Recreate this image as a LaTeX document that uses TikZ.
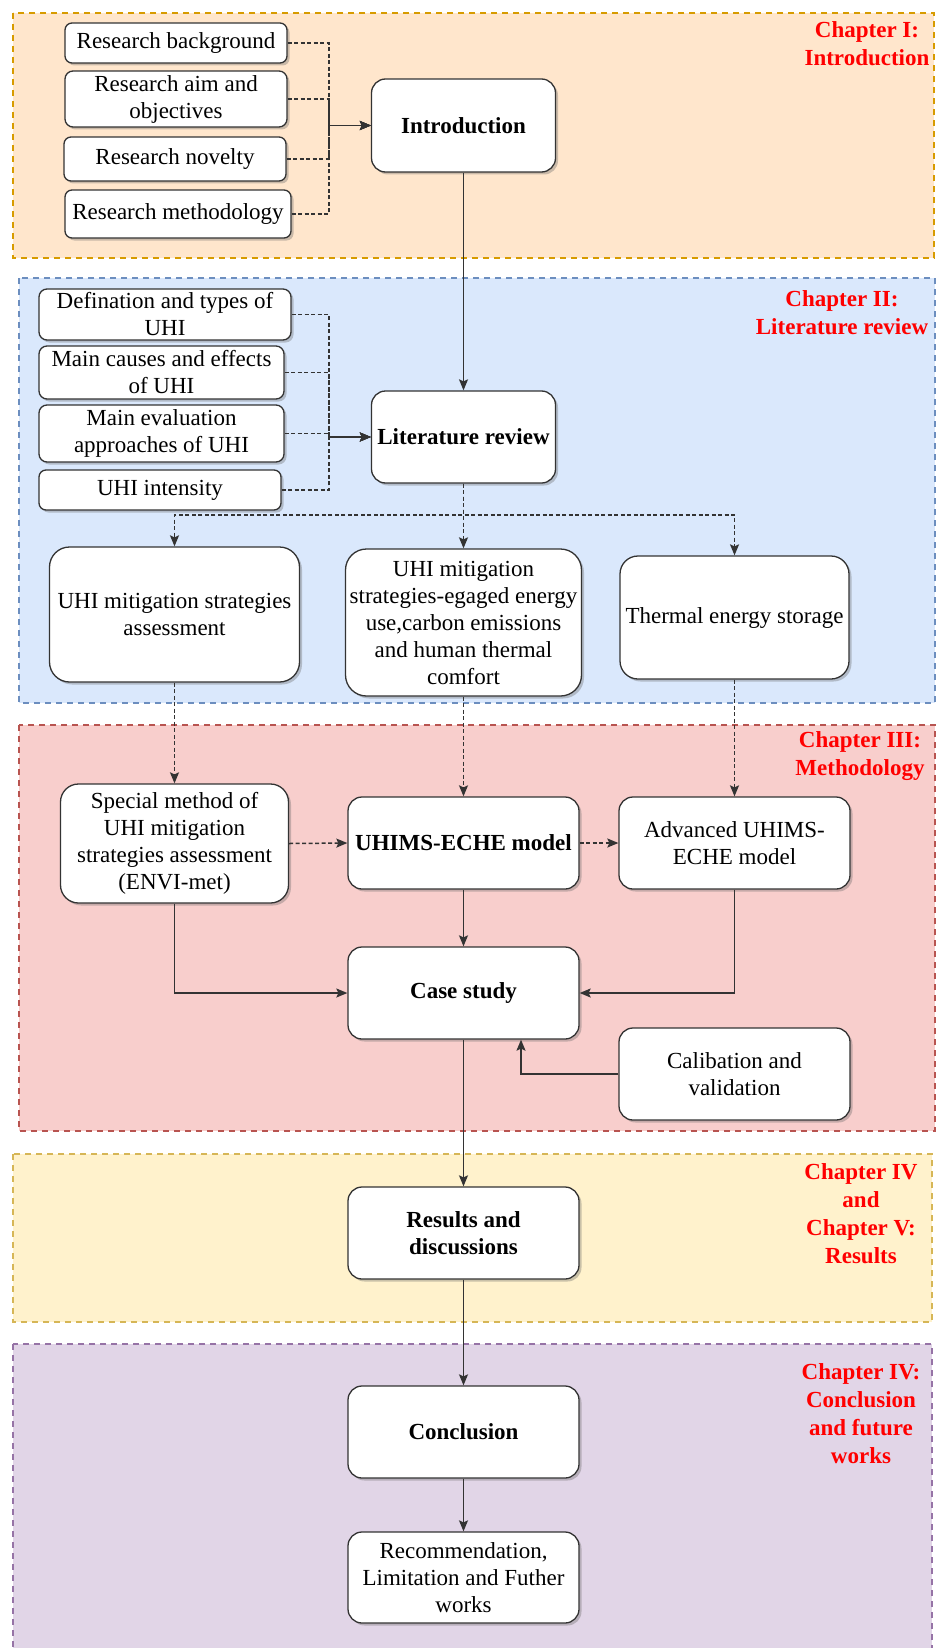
\documentclass[tikz,border=0pt]{standalone}
\usepackage{fontspec}
\setmainfont{Liberation Serif}
\usetikzlibrary{arrows.meta,shadows}

\definecolor{edgegray}{HTML}{333333}
\definecolor{orangefill}{HTML}{FFE6CC}\definecolor{orangeline}{HTML}{D79B00}
\definecolor{bluefill}{HTML}{DAE8FC}\definecolor{blueline}{HTML}{6C8EBF}
\definecolor{redfill}{HTML}{F8CECC}\definecolor{redline}{HTML}{B85450}
\definecolor{yellowfill}{HTML}{FFF2CC}\definecolor{yellowline}{HTML}{D6B656}
\definecolor{purplefill}{HTML}{E1D5E7}\definecolor{purpleline}{HTML}{9673A6}

\begin{document}
\begin{tikzpicture}[x=1pt,y=-1pt,
  chapter/.style={line width=2pt, dash pattern=on 6pt off 5pt},
  chlabel/.style={text=red, font=\bfseries\fontsize{23}{28}\selectfont, align=center, inner sep=0pt},
  box/.style={draw=edgegray, fill=white, line width=1.3pt, align=center, inner sep=0pt,
    font=\fontsize{23}{27}\selectfont,
    drop shadow={shadow xshift=2.5pt, shadow yshift=-2.5pt, opacity=0.35, fill=black!60}},
  wh/.style n args={3}{minimum width=#1pt, minimum height=#2pt, rounded corners=#3pt},
  bold/.style={font=\bfseries\fontsize{23}{27}\selectfont},
  >={Stealth[length=11pt,width=9pt,inset=2pt]},
  link/.style={draw=edgegray, line width=1.4pt, ->},
  dlink/.style={link, line width=1.5pt, dash pattern=on 4pt off 2.5pt}
]
\useasboundingbox (0,0) rectangle (937,1648);

% chapter bands
\path[chapter, fill=orangefill, draw=orangeline] (13,13) rectangle (934,258);
\path[chapter, fill=bluefill, draw=blueline] (19,278) rectangle (935,703);
\path[chapter, fill=redfill, draw=redline] (19,725) rectangle (935,1131);
\path[chapter, fill=yellowfill, draw=yellowline] (13,1154) rectangle (932,1322);
\path[chapter, fill=purplefill, draw=purpleline] (13,1344) rectangle (932,1665);

% chapter labels
\node[chlabel] (l1) at (867,44) {Chapter I:\\Introduction};
\node[chlabel] (l2) at (842,313) {Chapter II:\\Literature review};
\node[chlabel] (l3) at (860,756) {Chapter III:\\Methodology};
\node[chlabel] (l4) at (861,1214) {Chapter IV\\and\\Chapter V:\\Results};
\node[chlabel] (l5) at (861,1414) {Chapter IV:\\Conclusion\\and future\\works};

% chapter I
\node[box, wh={222}{40}{7}] (rb) at (176,43) {Research background};
\node[box, wh={222}{56}{8}] (ra) at (176,99) {Research aim and\\objectives};
\node[box, wh={222}{44}{7}] (rn) at (175,159) {Research novelty};
\node[box, wh={226}{48}{7}] (rm) at (178,214) {Research methodology};
\node[box, bold, wh={184}{93}{14}] (intro) at (463.5,125.5) {Introduction};

% chapter II
\node[box, wh={252}{51}{8}] (def) at (165,314.5) {Defination and types of\\UHI};
\node[box, wh={245}{53}{8}] (cause) at (161.5,372.5) {Main causes and effects\\of UHI};
\node[box, wh={245}{57}{8}] (eval) at (161.5,433.5) {Main evaluation\\approaches of UHI};
\node[box, wh={242}{40}{7}] (inten) at (160,490) {UHI intensity};
\node[box, bold, wh={184}{92}{14}] (lit) at (463.5,437) {Literature review};
\node[box, wh={250}{135}{20}] (uas) at (174.5,614.5) {UHI mitigation strategies\\assessment};
\node[box, wh={236}{147}{21}] (uses) at (463.5,622.5) {UHI mitigation\\strategies-egaged energy\\use,carbon emissions\\and human thermal\\comfort};
\node[box, wh={229}{123}{18}] (tes) at (734.5,617.5) {Thermal energy storage};

% chapter III
\node[box, wh={228}{119}{18}] (spec) at (174.5,843.5) {Special method of\\UHI mitigation\\strategies assessment\\(ENVI-met)};
\node[box, bold, wh={231}{92}{14}] (model) at (463.5,843) {UHIMS-ECHE model};
\node[box, wh={231}{92}{14}] (adv) at (734.5,843) {Advanced UHIMS-\\ECHE model};
\node[box, bold, wh={231}{92}{14}] (case) at (463.5,993) {Case study};
\node[box, wh={231}{92}{14}] (cal) at (734.5,1074) {Calibation and\\validation};

% chapters IV to VI
\node[box, bold, wh={231}{92}{14}] (res) at (463.5,1233) {Results and\\discussions};
\node[box, bold, wh={231}{92}{14}] (conc) at (463.5,1432) {Conclusion};
\node[box, wh={231}{91}{14}] (rec) at (463.5,1577.5) {Recommendation,\\Limitation and Futher\\works};

% junction points
\coordinate (j1) at (329,125.5);
\coordinate (j2) at (329,437);
\coordinate (j3) at (463.5,515);
\coordinate (k1) at (521,1074);

% introduction inputs
\draw[dlink] (rb.east) -| (j1) -- (intro.west);
\draw[dlink] (ra.east) -| (j1) -- (intro.west);
\draw[dlink] (rn.east) -| (j1) -- (intro.west);
\draw[dlink] (rm.east) -| (j1) -- (intro.west);

% literature review inputs
\draw[dlink] (def.east) -| (j2) -- (lit.west);
\draw[dlink] (cause.east) -| (j2) -- (lit.west);
\draw[dlink] (eval.east) -| (j2) -- (lit.west);
\draw[dlink] (inten.east) -| (j2) -- (lit.west);

\draw[link] (intro.south) -- (lit.north);

% literature review outputs
\draw[dlink] (lit.south) -- (j3) -| (uas.north);
\draw[dlink] (lit.south) -- (uses.north);
\draw[dlink] (lit.south) -- (j3) -| (tes.north);

% into methodology
\draw[dlink] (uas.south) -- (spec.north);
\draw[dlink] (uses.south) -- (model.north);
\draw[dlink] (tes.south) -- (adv.north);
\draw[dlink] (spec.east) -- (model.west);
\draw[dlink] (model.east) -- (adv.west);

\draw[link] (model.south) -- (case.north);
\draw[link] (spec.south) |- (case.west);
\draw[link] (adv.south) |- (case.east);
\draw[link] (cal.west) -- (k1) -- (k1 |- case.south);

% results and conclusion
\draw[link] (case.south) -- (res.north);
\draw[link] (res.south) -- (conc.north);
\draw[link] (conc.south) -- (rec.north);
\end{tikzpicture}
\end{document}
